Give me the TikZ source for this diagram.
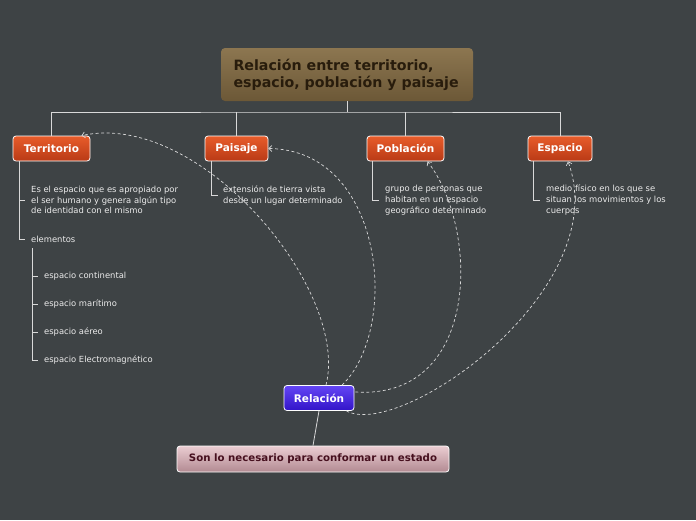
\documentclass[tikz,border=0pt]{standalone}
\usepackage{fontspec}
\setmainfont{DejaVu Sans}
\usetikzlibrary{arrows.meta}
\definecolor{bg}{RGB}{62,67,69}
\definecolor{orng}{RGB}{185,58,22}
\definecolor{orngt}{RGB}{232,92,42}
\definecolor{blu}{RGB}{50,20,200}
\definecolor{blut}{RGB}{100,70,245}
\definecolor{brt}{RGB}{140,118,80}
\definecolor{brb}{RGB}{108,88,55}
\definecolor{brtx}{RGB}{40,28,12}
\definecolor{pkt}{RGB}{235,205,210}
\definecolor{pkb}{RGB}{178,138,146}
\definecolor{pktx}{RGB}{70,15,30}
\begin{document}
\begin{tikzpicture}[x=1pt,y=-1pt,
 main/.style={rounded corners=3pt,draw=white,line width=0.8pt,text=white,font=\bfseries\fontsize{10.5}{12}\selectfont,inner sep=0pt,minimum height=25pt},
 org/.style={main,top color=orngt,bottom color=orng},
 sub/.style={font=\fontsize{8.4}{10.8}\selectfont,text=white!92!black,anchor=west,align=left,inner sep=0pt},
 tl/.style={draw=white!85!black,line width=0.8pt},
 dl/.style={draw=white!85!black,dash pattern=on 3pt off 2.5pt,line width=0.7pt,-{Straight Barb[length=3pt]}}]
\fill[bg] (0,0) rectangle (696,520);
\useasboundingbox (0,0) rectangle (696,520);
\node[rounded corners=4pt,top color=brt,bottom color=brb,minimum width=252pt,minimum height=53pt,inner sep=0pt] (title) at (347,74.5) {};
\node[font=\bfseries\fontsize{14.2}{17}\selectfont,text=brtx,align=left,anchor=west] at (230,75) {Relación entre territorio,\\espacio, población y paisaje};
\node[org,minimum width=77pt] (t) at (51.5,148.5) {Territorio};
\node[org,minimum width=63pt] (p) at (236.5,148.5) {Paisaje};
\node[org,minimum width=77pt] (po) at (405.5,148.5) {Población};
\node[org,minimum width=64pt] (e) at (560,148.5) {Espacio};
\node[main,top color=blut,bottom color=blu,minimum width=70pt] (r) at (319,398) {Relación};
\node[rounded corners=3pt,draw=white,line width=0.8pt,top color=pkt,bottom color=pkb,minimum width=272pt,minimum height=26pt,inner sep=0pt,font=\bfseries\fontsize{10.2}{12}\selectfont,text=pktx] (b) at (313,459) {Son lo necesario para conformar un estado};
\coordinate (h) at (347,112);
\draw[tl] (title.south) -- (h);
\draw[tl] (t.north) |- (h) -| (e.north);
\draw[tl] (p.north) -- (p.north|-h);
\draw[tl] (po.north) -- (po.north|-h);
\draw[tl] (r.south) -- (b.north);
\node[sub] (t1) at (31,200) {Es el espacio que es apropiado por\\el ser humano y genera algún tipo\\de identidad con el mismo};
\node[sub] (t2) at (31,239) {elementos};
\draw[tl] (19,161) |- (25,239);
\draw[tl] (19,200) -- (25,200);
\node[sub] (e1) at (44,276) {espacio continental};
\node[sub] (e2) at (44,304) {espacio marítimo};
\node[sub] (e3) at (44,332) {espacio aéreo};
\node[sub] (e4) at (44,360) {espacio Electromagnético};
\draw[tl] (32,248) |- (38,360);
\foreach \y in {276,304,332} \draw[tl] (32,\y) -- (38,\y);
\node[sub] (p1) at (223,195.5) {extensión de tierra vista\\desde un lugar determinado};
\draw[tl] (211,161) |- (218,195.5);
\node[sub] (po1) at (385,200) {grupo de personas que\\habitan en un espacio\\geográfico determinado};
\draw[tl] (372,161) |- (379,200);
\node[sub] (es1) at (546,200) {medio físico en los que se\\situan los movimientos y los\\cuerpos};
\draw[tl] (533,161) |- (540,200);
\draw[dl] ([xshift=7pt]r.north) .. controls (350,290) and (200,110) .. ([xshift=30pt]t.north);
\draw[dl] ([xshift=23pt]r.north) .. controls (400,330) and (385,150) .. (p.east);
\draw[dl] ([xshift=1pt,yshift=6pt]r.east) .. controls (480,400) and (480,230) .. ([xshift=22pt]po.south);
\draw[dl] ([xshift=-8pt]r.south east) .. controls (400,440) and (615,290) .. ([xshift=8pt]e.south);
\end{tikzpicture}
\end{document}
